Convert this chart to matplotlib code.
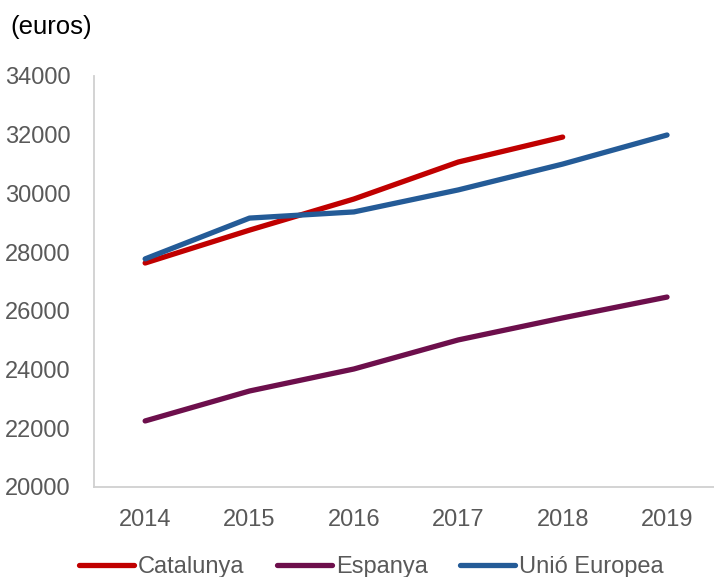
import matplotlib.pyplot as plt
import numpy as np

plt.rcParams['font.family'] = ['Liberation Sans', 'DejaVu Sans']

years = ['2014', '2015', '2016', '2017', '2018', '2019']
catalunya = [27630, 28750, 29810, 31070, 31920]
espanya = [22250, 23270, 24020, 25010, 25760, 26470]
ue = [27770, 29160, 29370, 30120, 31000, 31990]

fig = plt.figure(figsize=(7.14, 5.77), dpi=100)
ax = fig.add_axes([94/714, 1-487/577, 1-94/714, (487-76)/577])

x = np.arange(len(years))
ax.plot(x[:len(catalunya)], catalunya, color='#C00000', lw=3.8, solid_capstyle='round', label='Catalunya')
ax.plot(x, espanya, color='#6D0F4C', lw=3.8, solid_capstyle='round', label='Espanya')
ax.plot(x, ue, color='#245B97', lw=3.8, solid_capstyle='round', label='Unió Europea')

ax.set_xlim(-0.49, 5.45)
ax.set_ylim(20000, 34000)
ax.set_yticks(np.arange(20000, 34001, 2000))
ax.set_xticks(x)
ax.set_xticklabels(years)

for s in ['top', 'right']:
    ax.spines[s].set_visible(False)
for s in ['left', 'bottom']:
    ax.spines[s].set_color('#D0D0D0')
    ax.spines[s].set_linewidth(1.3)
ax.tick_params(axis='both', length=0, labelsize=17, labelcolor='#595959')
ax.tick_params(axis='y', pad=17)
ax.tick_params(axis='x', pad=16)

fig.text(10/714, 1-27/577, '(euros)', fontsize=18.5, color='black', va='center', ha='left')

fig.legend(loc='center', bbox_to_anchor=(0.52, 1-567/577), ncol=3, frameon=False,
           fontsize=17, handlelength=2.35, handletextpad=0.17, columnspacing=1.35,
           labelcolor='#595959')

fig.savefig('out.png', dpi=100)
